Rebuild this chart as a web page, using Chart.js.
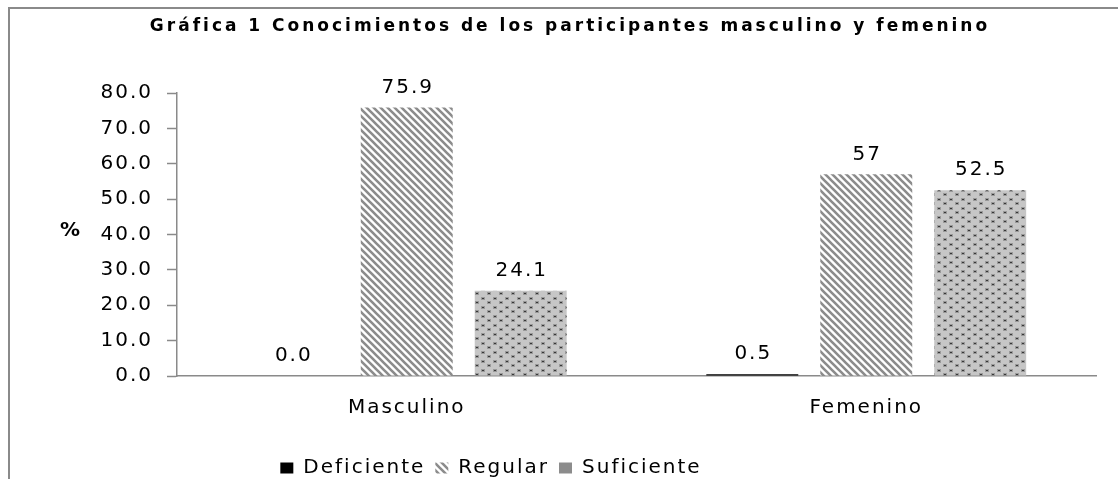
<!DOCTYPE html>
<html>
<head>
<meta charset="utf-8">
<script src="https://cdn.jsdelivr.net/npm/chart.js@4"></script>
<style>
  html, body { margin: 0; padding: 0; background: #fff; }
</style>
</head>
<body>
<canvas id="myChart" width="1118" height="479"></canvas>
<script>
  // Chart data
  var categories = ['Masculino', 'Femenino'];
  var seriesNames = ['Deficiente', 'Regular', 'Suficiente'];
  var deficiente = [0.0, 0.5];
  var regular = [75.9, 57];
  var suficiente = [24.1, 52.5];
  var deficienteLabels = ['0.0', '0.5'];
  var regularLabels = ['75.9', '57'];
  var suficienteLabels = ['24.1', '52.5'];
  var yTicks = [0, 10, 20, 30, 40, 50, 60, 70, 80];
  var chartTitle = 'Gráfica 1 Conocimientos de los participantes masculino y femenino';
  var yTitle = '%';

  var FONT = 'DejaVu Sans';
  var SPACING = '2px';

  // Diagonal stripes for "Regular"
  function stripePattern() {
    var c = document.createElement('canvas');
    c.width = 7; c.height = 7;
    var g = c.getContext('2d');
    g.fillStyle = '#ffffff';
    g.fillRect(0, 0, 7, 7);
    g.strokeStyle = '#8c8c8c';
    g.lineWidth = 2.6;
    g.beginPath();
    g.moveTo(-3, -3); g.lineTo(10, 10);
    g.moveTo(4, -3); g.lineTo(17, 10);
    g.moveTo(-10, -3); g.lineTo(3, 10);
    g.stroke();
    return g.createPattern(c, 'repeat');
  }

  // Gray with dark dots for "Suficiente"
  function dotPattern() {
    var c = document.createElement('canvas');
    c.width = 12; c.height = 9;
    var g = c.getContext('2d');
    g.fillStyle = '#c6c6c6';
    g.fillRect(0, 0, 12, 9);
    g.fillStyle = '#999999';
    g.fillRect(1, 0, 4, 3);
    g.fillRect(7, 4, 4, 3);
    g.fillStyle = '#383838';
    g.fillRect(2, 1, 2, 1);
    g.fillRect(8, 5, 2, 1);
    return g.createPattern(c, 'repeat');
  }

  var regularFill = stripePattern();
  var suficienteFill = dotPattern();

  // letter spacing to mimic the stretched text of the original
  var spacingPlugin = {
    id: 'spacing',
    beforeUpdate: function (chart) { chart.ctx.letterSpacing = SPACING; },
    beforeLayout: function (chart) { chart.ctx.letterSpacing = SPACING; },
    beforeDraw: function (chart) {
      var ctx = chart.ctx;
      ctx.letterSpacing = SPACING;
      // outer frame
      ctx.save();
      ctx.strokeStyle = '#8a8a8a';
      ctx.lineWidth = 2;
      ctx.beginPath();
      ctx.moveTo(9, chart.height);
      ctx.lineTo(9, 8);
      ctx.lineTo(chart.width, 8);
      ctx.stroke();
      ctx.restore();
    },
    afterLayout: function (chart) {
      // legend sits left of centre and a little lower in the original
      var lg = chart.legend;
      lg.left = 0;
      lg.right = 982;
      lg.top += 9;
      lg.bottom += 9;
    }
  };

  // value labels above bars, title and y title
  var valueLabelPlugin = {
    id: 'valueLabels',
    afterDatasetsDraw: function (chart) {
      var ctx = chart.ctx;
      ctx.save();
      ctx.font = '20px "' + FONT + '"';
      ctx.fillStyle = '#000';
      ctx.textAlign = 'center';
      ctx.textBaseline = 'middle';
      chart.data.datasets.forEach(function (ds, i) {
        chart.getDatasetMeta(i).data.forEach(function (bar, j) {
          ctx.fillText(ds.valueLabels[j], bar.x + 1, bar.y - 20);
        });
      });
      ctx.restore();
    },
    afterDraw: function (chart) {
      var ctx = chart.ctx;
      ctx.save();
      ctx.fillStyle = '#000';
      ctx.textAlign = 'center';
      ctx.textBaseline = 'middle';
      ctx.font = 'bold 17px "' + FONT + '"';
      ctx.letterSpacing = '3px';
      ctx.fillText(chartTitle, 570, 27);
      ctx.font = 'bold 20px "' + FONT + '"';
      ctx.letterSpacing = '0px';
      ctx.fillText(yTitle, 70, 231);
      ctx.restore();
    }
  };

  var ctx = document.getElementById('myChart').getContext('2d');

  var data = {
    labels: categories,
    datasets: [{
      label: seriesNames[0],
      data: deficiente,
      valueLabels: deficienteLabels,
      backgroundColor: '#000000',
      borderWidth: 0
    }, {
      label: seriesNames[1],
      data: regular,
      valueLabels: regularLabels,
      backgroundColor: regularFill,
      borderWidth: 0
    }, {
      label: seriesNames[2],
      data: suficiente,
      valueLabels: suficienteLabels,
      backgroundColor: suficienteFill,
      borderWidth: 0
    }]
  };

  var options = {
    responsive: false,
    animation: false,
    categoryPercentage: 0.744,
    barPercentage: 0.807,
    layout: { padding: { left: 0, right: 22, top: 93, bottom: 0 } },
    font: { family: FONT },
    plugins: {
      title: { display: false },
      tooltip: { enabled: false },
      legend: {
        position: 'bottom',
        labels: {
          color: '#000',
          font: { family: FONT, size: 20 },
          boxWidth: 13,
          boxHeight: 11,
          padding: 10,
          generateLabels: function (chart) {
            var items = Chart.defaults.plugins.legend.labels.generateLabels(chart);
            items.forEach(function (it) {
              it.lineWidth = 0;
              it.strokeStyle = 'rgba(0,0,0,0)';
              if (it.text === 'Suficiente') it.fillStyle = '#8c8c8c';
            });
            return items;
          }
        }
      }
    },
    scales: {
      x: {
        grid: { display: false, drawTicks: false },
        border: { display: true, color: '#8a8a8a', width: 1.5 },
        ticks: { color: '#000', font: { family: FONT, size: 20 }, padding: 20 },
        afterFit: function (scale) { scale.height = 63; }
      },
      y: {
        min: 0,
        max: 80,
        grid: { display: true, drawOnChartArea: false, tickLength: 10, tickColor: '#8a8a8a', tickWidth: 1.5 },
        border: { display: true, color: '#8a8a8a', width: 1.5 },
        ticks: {
          color: '#000',
          font: { family: FONT, size: 20 },
          padding: 14,
          callback: function (v) { return Number(v).toFixed(1); }
        },
        afterBuildTicks: function (scale) {
          scale.ticks = yTicks.map(function (v) { return { value: v }; });
        },
        afterFit: function (scale) { scale.width = 177; }
      }
    }
  };

  var chart = new Chart(ctx, {
    type: 'bar',
    data: data,
    options: options,
    plugins: [spacingPlugin, valueLabelPlugin]
  });
</script>
</body>
</html>
